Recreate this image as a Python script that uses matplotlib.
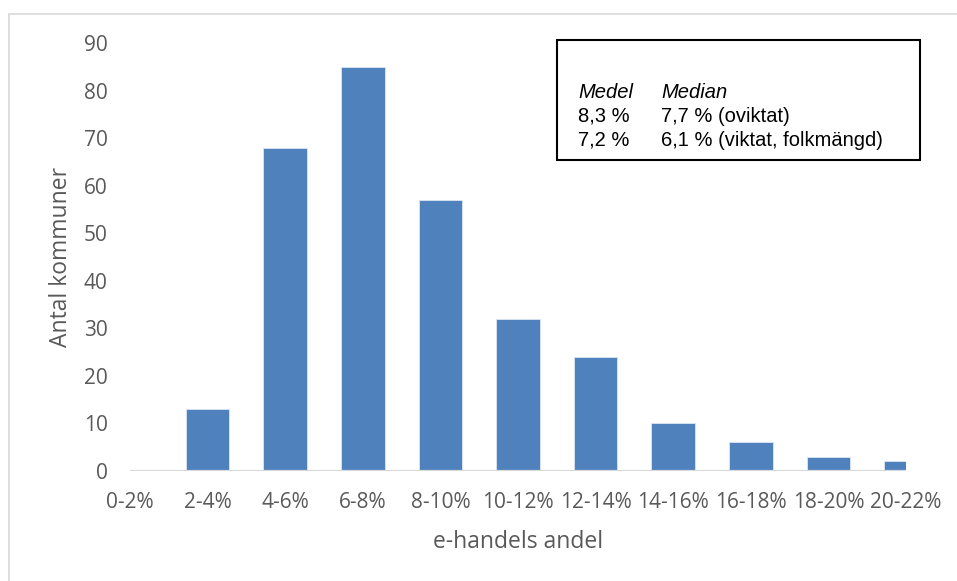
import numpy as np
import matplotlib.pyplot as plt
from matplotlib.patches import Rectangle

# Fördelning av kommuner efter e-handelns andel
kategorier = ['0-2%', '2-4%', '4-6%', '6-8%', '8-10%', '10-12%',
              '12-14%', '14-16%', '16-18%', '18-20%', '20-22%']
antal = [0, 13, 68, 85, 57, 32, 24, 10, 6, 3, 2]

medel = ['8,3 %', '7,2 %']
median = ['7,7 % (oviktat)', '6,1 % (viktat, folkmängd)']

fig = plt.figure(figsize=(9.57, 5.81), dpi=100)

# ram runt hela diagrammet
fig.patches.append(Rectangle((9 / 957, -0.01), 1.0, 1 - 14 / 581 + 0.01,
                             transform=fig.transFigure, fill=False,
                             edgecolor='#d9d9d9', linewidth=1.2))

ax = fig.add_axes([130 / 957, 110 / 581, 776 / 957, 428 / 581])

x = np.arange(len(kategorier))
ax.bar(x, antal, width=0.56, color='#4f81bd', edgecolor='#dce6f2',
       linewidth=0.6, zorder=2)
ax.axhline(0, color='#d9d9d9', linewidth=1.6, zorder=3)

ax.set_xlim(0, len(kategorier) - 1)
ax.set_ylim(0, 90)
ax.set_yticks(range(0, 91, 10))
ax.set_xticks(x)
ax.set_xticklabels(kategorier)

for s in ax.spines.values():
    s.set_visible(False)
ax.tick_params(length=0, labelsize=15, labelcolor='#595959')
ax.tick_params(axis='x', pad=15)
ax.tick_params(axis='y', pad=16)
for lab in ax.get_xticklabels() + ax.get_yticklabels():
    lab.set_family('Open Sans')

ax.set_xlabel('e-handels andel', fontsize=16.5, color='#595959',
              family='Open Sans', labelpad=12)
ax.set_ylabel('Antal kommuner', fontsize=16.5, color='#595959',
              family='Open Sans', labelpad=8)

# ruta med medel och median
fig.patches.append(Rectangle((557 / 957, 1 - 160 / 581), 363 / 957, 120 / 581,
                             transform=fig.transFigure, fill=True,
                             facecolor='white', edgecolor='black',
                             linewidth=1.5, zorder=5))
tx1, tx2 = 578 / 957, 661 / 957
rader = [98, 122, 146]
fig.text(tx1, 1 - rader[0] / 581, 'Medel', style='italic', fontsize=14.5,
         family='Liberation Sans', zorder=6)
fig.text(tx2, 1 - rader[0] / 581, 'Median', style='italic', fontsize=14.5,
         family='Liberation Sans', zorder=6)
for i in range(2):
    fig.text(tx1, 1 - rader[i + 1] / 581, medel[i], fontsize=14.5,
             family='Liberation Sans', zorder=6)
    fig.text(tx2, 1 - rader[i + 1] / 581, median[i], fontsize=14.5,
             family='Liberation Sans', zorder=6)

fig.savefig('out.png', dpi=100)
